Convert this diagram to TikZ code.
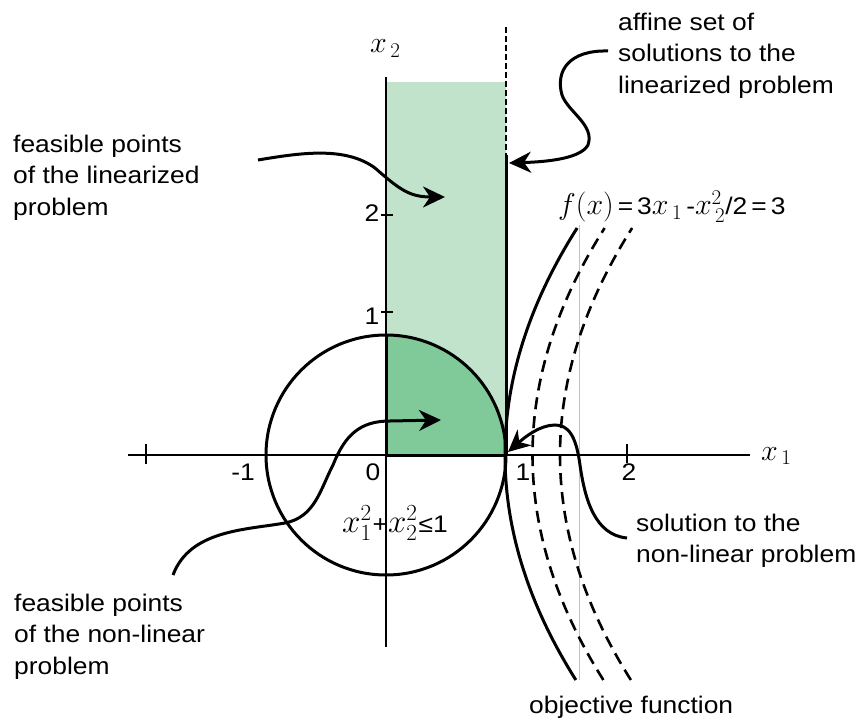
\RequirePackage{fix-cm}
\documentclass[tikz,border=0pt]{standalone}
\usepackage{fontspec}
\setmainfont[FakeStretch=1.1]{Liberation Sans}
\usetikzlibrary{arrows.meta}
\definecolor{lightg}{RGB}{193,227,204}
\definecolor{darkg}{RGB}{128,201,153}
\definecolor{skyl}{RGB}{140,210,242}
\newcommand{\mymath}[1]{{\fontsize{30}{32}\selectfont$#1$}}
\newcommand{\bigmath}[1]{{\fontsize{33}{34}\selectfont$#1$}}
\begin{document}
\begin{tikzpicture}[x=1pt,y=-1pt,
  lbl/.style={font=\fontsize{24}{31.5}\selectfont, align=left, inner sep=0, anchor=north west},
  num/.style={font=\fontsize{24}{28}\selectfont, inner sep=0, anchor=base},
  axis/.style={line width=1.5pt},
  thick2/.style={line width=3pt},
  pointer/.style={line width=3pt, -{Stealth[length=22pt,width=21pt,inset=7pt]}},
  objdash/.style={line width=2.6pt, dash pattern=on 12pt off 7pt}]
\useasboundingbox (0,0) rectangle (860,722);
% feasible regions
\fill[lightg] (386,82) rectangle (506,455);
\begin{scope}
  \clip (386,335) rectangle (506,455);
  \fill[darkg] (386,455) circle[radius=120pt];
\end{scope}
% axes
\draw[axis] (128,455) -- (750,455);
\draw[axis] (386,77) -- (386,647);
\draw[axis] (146,444) -- (146,464);
\draw[axis] (627,444) -- (627,463);
\draw[axis] (381,312) -- (393,312);
\draw[axis] (381,215) -- (393,215);
% constraint circle and quarter disk border
\draw[thick2] (386,455) circle[radius=120pt];
\draw[thick2] (386,335) -- (386,455) -- (506,455);
% affine set
\draw[line width=2.8pt, dash pattern=on 6pt off 3pt] (506,27) -- (506,155);
\draw[thick2] (506,155) -- (506,455);
% light blue guide
\draw[skyl, line width=0.9pt] (579,225) -- (579,680);
% objective level curves
\draw[thick2] plot[domain=-225:227, samples=80, variable=\t] ({505+14*(\t/100)*(\t/100)},{455-\t});
\draw[objdash] plot[domain=-225:227, samples=80, variable=\t] ({532.5+14*(\t/100)*(\t/100)},{455-\t});
\draw[objdash] plot[domain=-225:227, samples=80, variable=\t] ({560+14*(\t/100)*(\t/100)},{455-\t});
% texts
\node[lbl] (tlin) at (13,134.5) {feasible points\\of the linearized\\problem};
\node[lbl] (taff) at (618,12.5) {affine set of\\solutions to the\\linearized problem};
\node[lbl] (tnon) at (14,593.5) {feasible points\\of the non-linear\\problem};
\node[lbl] (tsol) at (636,513.5) {solution to the\\non-linear problem};
\node[num, anchor=base west] (tobj) at (529,713) {objective function};
\node[num, anchor=base west] (tf) at (558,215) {\mymath{f(x)}\,=\,3\mymath{x_{\,1}}\,-\mymath{x_{\,2}^2}/2\,=\,3};
\node[num, anchor=base west] (tc) at (342,532) {\bigmath{x_1^2}\kern1pt+\bigmath{x_2^2}\kern1pt≤1};
\node[num] (nm1) at (243,480) {-1};
\node[num] (n0) at (373,480) {0};
\node[num] (n1) at (523,480) {1};
\node[num] (n2) at (629,480) {2};
\node[num] (ny1) at (372,324) {1};
\node[num] (ny2) at (372,222) {2};
\node[inner sep=0, anchor=base west] (lx2) at (370,53) {\fontsize{30}{32}\selectfont$x_{\,2}$};
\node[inner sep=0, anchor=base west] (lx1) at (761,460) {\fontsize{30}{32}\selectfont$x_{\,1}$};
% arrow endpoints
\coordinate (a1s) at (258,160);
\coordinate (a1e) at (445,197);
\coordinate (a2s) at (608,51);
\coordinate (a2e) at (509,163);
\coordinate (a3s) at (173,575);
\coordinate (a3e) at (441,420);
\coordinate (a4s) at (627,538);
\coordinate (a4e) at (508,452);
\draw[pointer] (a1s) .. controls (300,153) and (345,146) .. (375,168) .. controls (400,190) and (410,197) .. (a1e);
\draw[pointer] (a2s) .. controls (570,50) and (555,70) .. (562,95) .. controls (568,112) and (595,125) .. (588,145) .. controls (580,160) and (540,162) .. (a2e);
\draw[pointer] (a3s) .. controls (190,530) and (245,530) .. (285,523) .. controls (315,517) and (320,490) .. (333,465) .. controls (345,435) and (360,421) .. (390,421) -- (a3e);
\draw[pointer] (a4s) .. controls (595,535) and (585,500) .. (580,465) .. controls (576,435) and (568,425) .. (555,425) .. controls (540,425) and (525,437) .. (a4e);
\end{tikzpicture}
\end{document}
